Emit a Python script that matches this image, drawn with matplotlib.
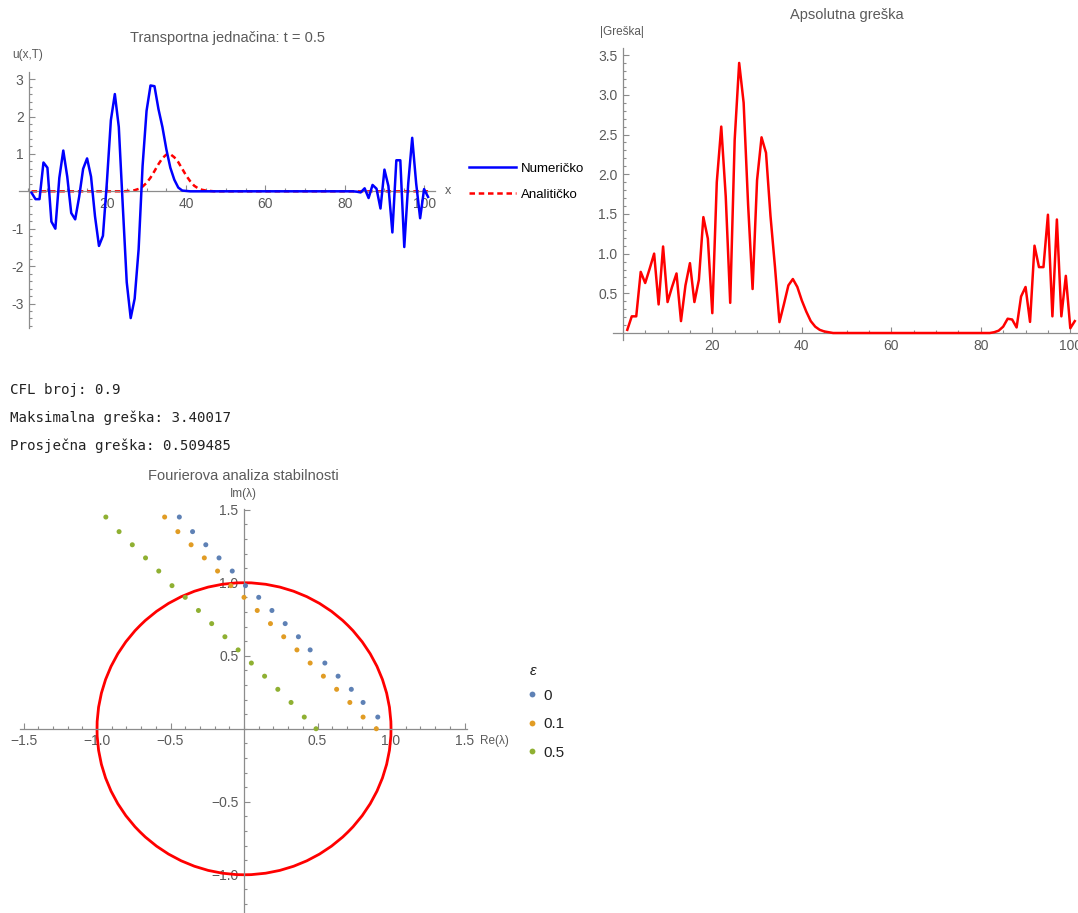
import matplotlib
matplotlib.use("Agg")
import matplotlib.pyplot as plt
import numpy as np
from matplotlib.patches import Circle
from matplotlib.ticker import FixedLocator, MultipleLocator, FixedFormatter
from matplotlib.lines import Line2D

plt.rcParams['font.family'] = ['Liberation Sans', 'DejaVu Sans']

# data ------------------------------------------
# numericko rjesenje u(x,T), x = 1..40 i x = 83..101 (izmedju je 0)
numeric_left = [-0.04, -0.21, -0.21, 0.77, 0.63, -0.81, -1.00, 0.36, 1.09, 0.39,
                -0.58, -0.75, -0.15, 0.60, 0.88, 0.39, -0.67, -1.46, -1.19, 0.25,
                1.90, 2.60, 1.72, -0.38, -2.43, -3.39, -2.87, -1.55, 0.68, 2.15,
                2.83, 2.81, 2.20, 1.72, 1.12, 0.63, 0.31, 0.10, 0.02, 0.01]
numeric_right = [-0.01, -0.03, 0.08, -0.18, 0.17, 0.07, -0.46, 0.58, 0.14, -1.10,
                 0.83, 0.83, -1.49, 0.21, 1.43, 0.21, -0.72, 0.06, -0.15]
# analiticko rjesenje, x = 25..46 (ostalo 0)
analytic_peak = [0.005, 0.012, 0.030, 0.064, 0.126, 0.225, 0.365, 0.54, 0.725, 0.885,
                 0.983, 0.992, 0.91, 0.78, 0.60, 0.42, 0.27, 0.15, 0.08, 0.04, 0.02, 0.01]

x_grid = np.arange(1, 102)
numeric = np.zeros(101)
numeric[0:40] = numeric_left
numeric[82:101] = numeric_right
analytic = np.zeros(101)
analytic[24:46] = analytic_peak
error = np.abs(numeric - analytic)

# Fourier: vlastite vrijednosti lambda za eps = 0, 0.1, 0.5
eps_labels = ["0", "0.1", "0.5"]
re_eps0 = [0.91, 0.81, 0.73, 0.64, 0.55, 0.45, 0.37, 0.28, 0.19, 0.10, 0.01, -0.08, -0.17, -0.26, -0.35, -0.44]
im_eps0 = [0.08, 0.18, 0.27, 0.36, 0.45, 0.54, 0.63, 0.72, 0.81, 0.90, 0.98, 1.08, 1.17, 1.26, 1.35, 1.45]
re_eps01 = [0.90, 0.81, 0.72, 0.63, 0.54, 0.45, 0.36, 0.27, 0.18, 0.09, 0.00, -0.09, -0.18, -0.27, -0.36, -0.45, -0.54]
im_eps01 = [0.00, 0.08, 0.18, 0.27, 0.36, 0.45, 0.54, 0.63, 0.72, 0.81, 0.90, 0.98, 1.08, 1.17, 1.26, 1.35, 1.45]
re_eps05 = [0.49, 0.41, 0.32, 0.23, 0.14, 0.05, -0.04, -0.13, -0.22, -0.31, -0.40, -0.49, -0.58, -0.67, -0.76, -0.85, -0.94]
im_eps05 = [0.00, 0.08, 0.18, 0.27, 0.36, 0.45, 0.54, 0.63, 0.72, 0.81, 0.90, 0.98, 1.08, 1.17, 1.26, 1.35, 1.45]

cfl = "0.9"
max_err = "3.40017"
mean_err = "0.509485"

# figure ------------------------------------------
W, H = 1078, 913
fig = plt.figure(figsize=(W / 100, H / 100), dpi=100)

GRAY = '#5a5a5a'
AXC = '#8c8c8c'
TICKFS = 10


def box(l, t, r, b):
    return [l / W, 1 - b / H, (r - l) / W, (b - t) / H]


def fx(px):
    return px / W


def fy(py):
    return 1 - py / H


def math_style(ax, x0, y0):
    ax.patch.set_alpha(0)
    for s in ['top', 'right']:
        ax.spines[s].set_visible(False)
    ax.spines['left'].set_position(('data', x0))
    ax.spines['bottom'].set_position(('data', y0))
    for s in ['left', 'bottom']:
        ax.spines[s].set_color(AXC)
        ax.spines[s].set_linewidth(0.9)
    ax.tick_params(which='both', direction='in', color=AXC, labelcolor=GRAY,
                   labelsize=TICKFS, width=0.8)
    ax.tick_params(which='major', length=4.5, pad=4)
    ax.tick_params(which='minor', length=2.5)
    ax.set_axisbelow(True)


def labels(vals, fmt, minus):
    out = []
    for v in vals:
        s = fmt.format(abs(v))
        out.append((minus + s) if v < 0 else s)
    return out


# plot 1 : transportna jednacina ---------------------------
ax1 = fig.add_axes(box(19, 72, 435, 328))
ax1.set_xlim(-2.17, 102.75)
ax1.set_ylim(-3.655, 3.19)
math_style(ax1, 0.4, 0)
ax1.plot(x_grid, numeric, color='#0000ff', lw=1.8, zorder=3)
ax1.plot(x_grid, analytic, color='#ff0000', lw=1.8, linestyle=(0, (2.2, 1.5)), zorder=2)
xt = [20, 40, 60, 80, 100]
ax1.xaxis.set_major_locator(FixedLocator(xt))
ax1.xaxis.set_major_formatter(FixedFormatter([str(v) for v in xt]))
ax1.xaxis.set_minor_locator(MultipleLocator(5))
yt = [-3, -2, -1, 1, 2, 3]
ax1.yaxis.set_major_locator(FixedLocator(yt))
ax1.yaxis.set_major_formatter(FixedFormatter(labels(yt, "{:g}", "-")))
ax1.yaxis.set_minor_locator(MultipleLocator(0.2))

fig.text(fx(227), fy(38), "Transportna jednačina: t = 0.5", ha='center', va='center',
         color=GRAY, fontsize=10.5)
fig.text(fx(28), fy(55), "u(x,T)", ha='center', va='center', color=GRAY, fontsize=8.5)
fig.text(fx(448), fy(191), "x", ha='center', va='center', color=GRAY, fontsize=9)

leg_handles = [Line2D([], [], color='#0000ff', lw=1.8),
               Line2D([], [], color='#ff0000', lw=1.8, linestyle=(0, (2.2, 1.5)))]
fig.legend(leg_handles, ["Numeričko", "Analitičko"], loc='upper left',
           bbox_to_anchor=(fx(462), fy(156)), frameon=False, fontsize=9.5,
           handlelength=3.6, handletextpad=0.4, labelspacing=1.05, borderpad=0)

# plot 2 : apsolutna greska ---------------------------
ax2 = fig.add_axes(box(612.7, 48, 1078, 340))
ax2.set_xlim(-2.26, 101.72)
ax2.set_ylim(-0.088, 3.59)
math_style(ax2, 0, 0)
ax2.plot(x_grid, error, color='#ff0000', lw=1.8, zorder=3)
ax2.xaxis.set_major_locator(FixedLocator(xt))
ax2.xaxis.set_major_formatter(FixedFormatter([str(v) for v in xt]))
ax2.xaxis.set_minor_locator(MultipleLocator(5))
yt2 = [0.5, 1.0, 1.5, 2.0, 2.5, 3.0, 3.5]
ax2.yaxis.set_major_locator(FixedLocator(yt2))
ax2.yaxis.set_major_formatter(FixedFormatter(["{:.1f}".format(v) for v in yt2]))
ax2.yaxis.set_minor_locator(MultipleLocator(0.1))

fig.text(fx(847), fy(15), "Apsolutna greška", ha='center', va='center',
         color=GRAY, fontsize=10.5)
fig.text(fx(622), fy(32), "|Greška|", ha='center', va='center', color=GRAY, fontsize=8.5)

# tekst ---------------------------
mono = dict(family='DejaVu Sans Mono', fontsize=10.2, color='#222222', va='center', ha='left')
fig.text(fx(10), fy(390), "CFL broj: " + cfl, **mono)
fig.text(fx(10), fy(418), "Maksimalna greška: " + max_err, **mono)
fig.text(fx(10), fy(446), "Prosječna greška: " + mean_err, **mono)

# plot 3 : Fourierova analiza ---------------------------
ax3 = fig.add_axes(box(20, 509, 467, 913))
ax3.set_xlim(-1.524, 1.517)
ax3.set_ylim(-1.262, 1.505)
math_style(ax3, 0, 0)
ax3.add_patch(Circle((0, 0), 1.0, fill=False, edgecolor='#ff0000', lw=2.0, zorder=2))
colors = ['#5e81b5', '#e19c24', '#8fb032']
series = [(re_eps0, im_eps0), (re_eps01, im_eps01), (re_eps05, im_eps05)]
for (re, im), c in zip(series, colors):
    ax3.scatter(re, im, s=13, color=c, edgecolors='none', zorder=3)
xt3 = [-1.5, -1.0, -0.5, 0.5, 1.0, 1.5]
ax3.xaxis.set_major_locator(FixedLocator(xt3))
ax3.xaxis.set_major_formatter(FixedFormatter(labels(xt3, "{:.1f}", "\u2212")))
ax3.xaxis.set_minor_locator(MultipleLocator(0.1))
yt3 = [-1.0, -0.5, 0.5, 1.0, 1.5]
ax3.yaxis.set_major_locator(FixedLocator(yt3))
ax3.yaxis.set_major_formatter(FixedFormatter(labels(yt3, "{:.1f}", "\u2212")))
ax3.yaxis.set_minor_locator(MultipleLocator(0.1))

fig.text(fx(243), fy(476), "Fourierova analiza stabilnosti", ha='center', va='center',
         color=GRAY, fontsize=10.5)
fig.text(fx(243), fy(494), "Im(λ)", ha='center', va='center', color=GRAY, fontsize=8.5)
fig.text(fx(480), fy(741), "Re(λ)", ha='left', va='center', color=GRAY, fontsize=8.5)

fig.text(fx(533), fy(671), "ε", ha='center', va='center', color='#222222',
         fontsize=11, style='italic')
eps_handles = [Line2D([], [], marker='o', linestyle='none', markersize=4.2,
                      markerfacecolor=c, markeredgecolor='none') for c in colors]
fig.legend(eps_handles, eps_labels, loc='upper left',
           bbox_to_anchor=(fx(518), fy(681)), frameon=False, fontsize=11,
           handlelength=0.8, handletextpad=0.35, labelspacing=0.95, borderpad=0,
           labelcolor='#222222')

fig.savefig("out.png", dpi=100)
